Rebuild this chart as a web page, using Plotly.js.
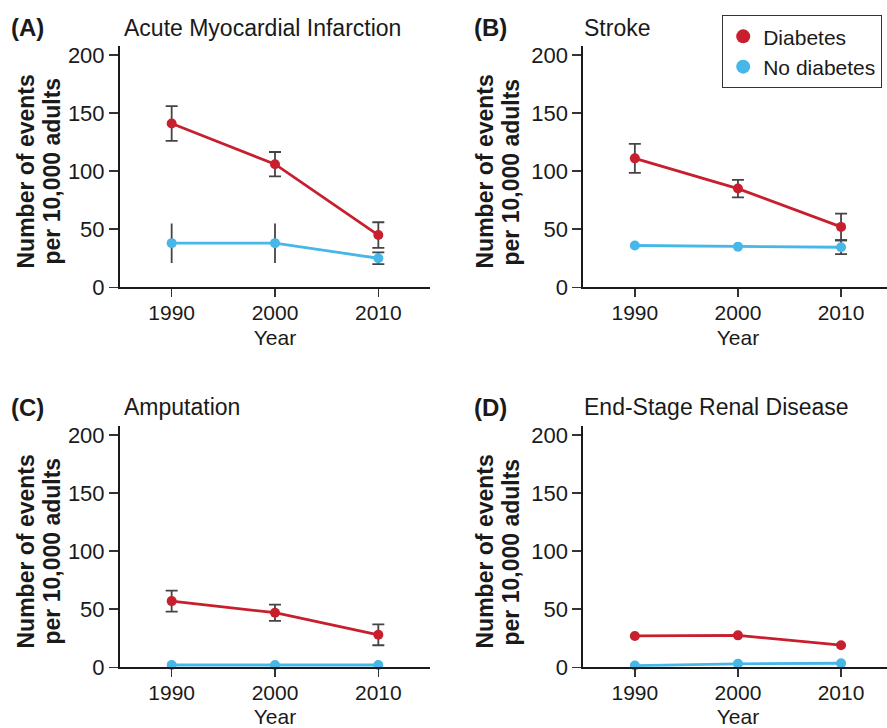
<!DOCTYPE html>
<html>
<head>
<meta charset="utf-8">
<script src="https://cdn.plot.ly/plotly-3.0.1.min.js"></script>
<style>
html,body{margin:0;padding:0;overflow:hidden;background:#fff;}
#chart{width:895px;height:728px;}
</style>
</head>
<body>
<div id="chart"></div>
<script>
// ---- data ----
const years = [1990, 2000, 2010];
const panelLetters = ['(A)', '(B)', '(C)', '(D)'];
const panelTitles = ['Acute Myocardial Infarction', 'Stroke', 'Amputation', 'End-Stage Renal Disease'];
const seriesNames = ['Diabetes', 'No diabetes'];
const yTitleLines = ['Number of events', 'per 10,000 adults'];
const xTitle = 'Year';
const yTickVals = [0, 50, 100, 150, 200];

const diabetesA = [141, 106, 45];
const diabetesErrA = [15, 10.5, 11];
const noDiabetesA = [38, 38, 25];
const noDiabetesErrA = [17, 17, 5];
const noDiabetesCapA = [false, false, true];

const diabetesB = [111, 85, 52];
const diabetesErrB = [12.5, 7.5, 11.5];
const noDiabetesB = [36, 35, 34.5];
const noDiabetesErrB = [0, 0, 6];
const noDiabetesCapB = [false, false, true];

const diabetesC = [57, 47, 28];
const diabetesErrC = [9, 7, 9];
const noDiabetesC = [2, 2, 2];
const noDiabetesErrC = [0, 0, 0];
const noDiabetesCapC = [true, true, true];

const diabetesD = [27, 27.5, 19];
const diabetesErrD = [0, 0, 0];
const noDiabetesD = [1.5, 3, 3.5];
const noDiabetesErrD = [0, 0, 0];
const noDiabetesCapD = [true, true, true];

// ---- styling ----
const W = 895, H = 728;
const RED = '#c81f2e', BLUE = '#47b7e7';
const FONT = 'Liberation Sans, Arial, Helvetica, sans-serif';
const TXT = '#1a1a1a';

const panels = [
  {d: diabetesA, de: diabetesErrA, n: noDiabetesA, ne: noDiabetesErrA, nc: noDiabetesCapA},
  {d: diabetesB, de: diabetesErrB, n: noDiabetesB, ne: noDiabetesErrB, nc: noDiabetesCapB},
  {d: diabetesC, de: diabetesErrC, n: noDiabetesC, ne: noDiabetesErrC, nc: noDiabetesCapC},
  {d: diabetesD, de: diabetesErrD, n: noDiabetesD, ne: noDiabetesErrD, nc: noDiabetesCapD}
];

// pixel geometry (left, right, top, bottom of axes)
const geo = [
  {l: 120, r: 430, t: 45.7, b: 287.3},
  {l: 583.3, r: 892.6, t: 45.7, b: 287.3},
  {l: 120, r: 430, t: 425.7, b: 667.3},
  {l: 583.3, r: 892.6, t: 425.7, b: 667.3}
];

const traces = [];
const layout = {
  width: W, height: H,
  margin: {l: 0, r: 0, t: 0, b: 0},
  paper_bgcolor: '#fff', plot_bgcolor: '#fff',
  font: {family: FONT, color: TXT},
  showlegend: true,
  legend: {
    x: 722 / W, xanchor: 'left', y: (H - 15) / H, yanchor: 'top',
    bgcolor: '#fff', bordercolor: '#333', borderwidth: 1.2,
    font: {size: 21, color: TXT}, itemclick: false, itemdoubleclick: false,
    tracegroupgap: 0
  },
  annotations: []
};

function errorTrace(xa, ya, xs, ys, es, capped) {
  return {
    type: 'scatter', mode: 'markers', x: xs, y: ys,
    xaxis: xa, yaxis: ya, showlegend: false, hoverinfo: 'skip',
    marker: {size: 1, opacity: 0},
    cliponaxis: false,
    error_y: {type: 'data', array: es, visible: true, color: '#444', thickness: 1.8, width: capped ? 6 : 0}
  };
}

function addErrors(xa, ya, vals, errs, caps) {
  [true, false].forEach(function (cap) {
    const xs = [], ys = [], es = [];
    for (let i = 0; i < years.length; i++) {
      if (errs[i] > 0 && (caps ? caps[i] === cap : cap === true)) {
        xs.push(years[i]); ys.push(vals[i]); es.push(errs[i]);
      }
    }
    if (xs.length) traces.push(errorTrace(xa, ya, xs, ys, es, cap));
  });
}

panels.forEach(function (p, k) {
  const idx = k + 1;
  const xa = 'x' + idx, ya = 'y' + idx;
  const g = geo[k];
  const xKey = 'xaxis' + (idx === 1 ? '' : idx);
  const yKey = 'yaxis' + (idx === 1 ? '' : idx);

  layout[xKey] = {
    domain: [g.l / W, Math.min(g.r / W, 1)],
    anchor: ya, range: [1985, 2015 - (g.r > W ? (g.r - W) / 10.3 : 0)],
    tickvals: years, ticktext: years.map(String),
    ticks: 'outside', ticklen: 8, tickwidth: 1.5, tickcolor: '#333',
    ticklabelstandoff: -3,
    showline: true, linewidth: 2, linecolor: '#1a1a1a',
    showgrid: false, zeroline: false, fixedrange: true,
    tickfont: {size: 21, color: TXT},
    title: {text: xTitle, font: {size: 21, color: TXT}, standoff: 8}
  };
  layout[yKey] = {
    domain: [(H - g.b) / H, (H - g.t) / H],
    anchor: xa, range: [0, 208],
    tickvals: yTickVals,
    ticks: 'outside', ticklen: 9, tickwidth: 1.5, tickcolor: '#333',
    showline: true, linewidth: 2, linecolor: '#1a1a1a',
    showgrid: false, zeroline: false, fixedrange: true,
    tickfont: {size: 22, color: TXT}
  };

  // error bars (drawn first, beneath lines)
  addErrors(xa, ya, p.d, p.de, null);
  addErrors(xa, ya, p.n, p.ne, p.nc);

  traces.push({
    type: 'scatter', mode: 'lines+markers', x: years, y: p.n,
    xaxis: xa, yaxis: ya, showlegend: false, cliponaxis: false,
    line: {color: BLUE, width: 2.8}, marker: {color: BLUE, size: 10}
  });
  traces.push({
    type: 'scatter', mode: 'lines+markers', x: years, y: p.d,
    xaxis: xa, yaxis: ya, showlegend: false, cliponaxis: false,
    line: {color: RED, width: 2.8}, marker: {color: RED, size: 10}
  });

  const topY = k < 2 ? 28 : 407;
  const letterX = k % 2 === 0 ? 9 : 472;
  const titleX = k % 2 === 0 ? 122 : 582;
  layout.annotations.push({
    text: '<b>' + panelLetters[k] + '</b>', xref: 'paper', yref: 'paper',
    x: letterX / W, y: (H - topY) / H, xanchor: 'left', yanchor: 'middle',
    showarrow: false, font: {size: 24, color: TXT}
  });
  layout.annotations.push({
    text: panelTitles[k], xref: 'paper', yref: 'paper',
    x: titleX / W, y: (H - topY) / H, xanchor: 'left', yanchor: 'middle',
    showarrow: false, font: {size: 23, color: TXT}
  });
  const ytX0 = k % 2 === 0 ? 25 : 484;
  const ytY = (g.t + g.b) / 2 + 5;
  yTitleLines.forEach(function (line, j) {
    layout.annotations.push({
      text: '<b>' + line + '</b>', xref: 'paper', yref: 'paper',
      x: (ytX0 + j * 26) / W, y: (H - ytY) / H, xanchor: 'center', yanchor: 'middle',
      textangle: -90, showarrow: false, font: {size: 23, color: TXT}
    });
  });
});

// legend-only entries
traces.push({
  type: 'scatter', mode: 'markers', x: [null], y: [null], xaxis: 'x2', yaxis: 'y2',
  name: seriesNames[0], marker: {color: RED, size: 14}, hoverinfo: 'skip'
});
traces.push({
  type: 'scatter', mode: 'markers', x: [null], y: [null], xaxis: 'x2', yaxis: 'y2',
  name: seriesNames[1], marker: {color: BLUE, size: 14}, hoverinfo: 'skip'
});

Plotly.newPlot('chart', traces, layout, {displayModeBar: false, staticPlot: true});
</script>
</body>
</html>
